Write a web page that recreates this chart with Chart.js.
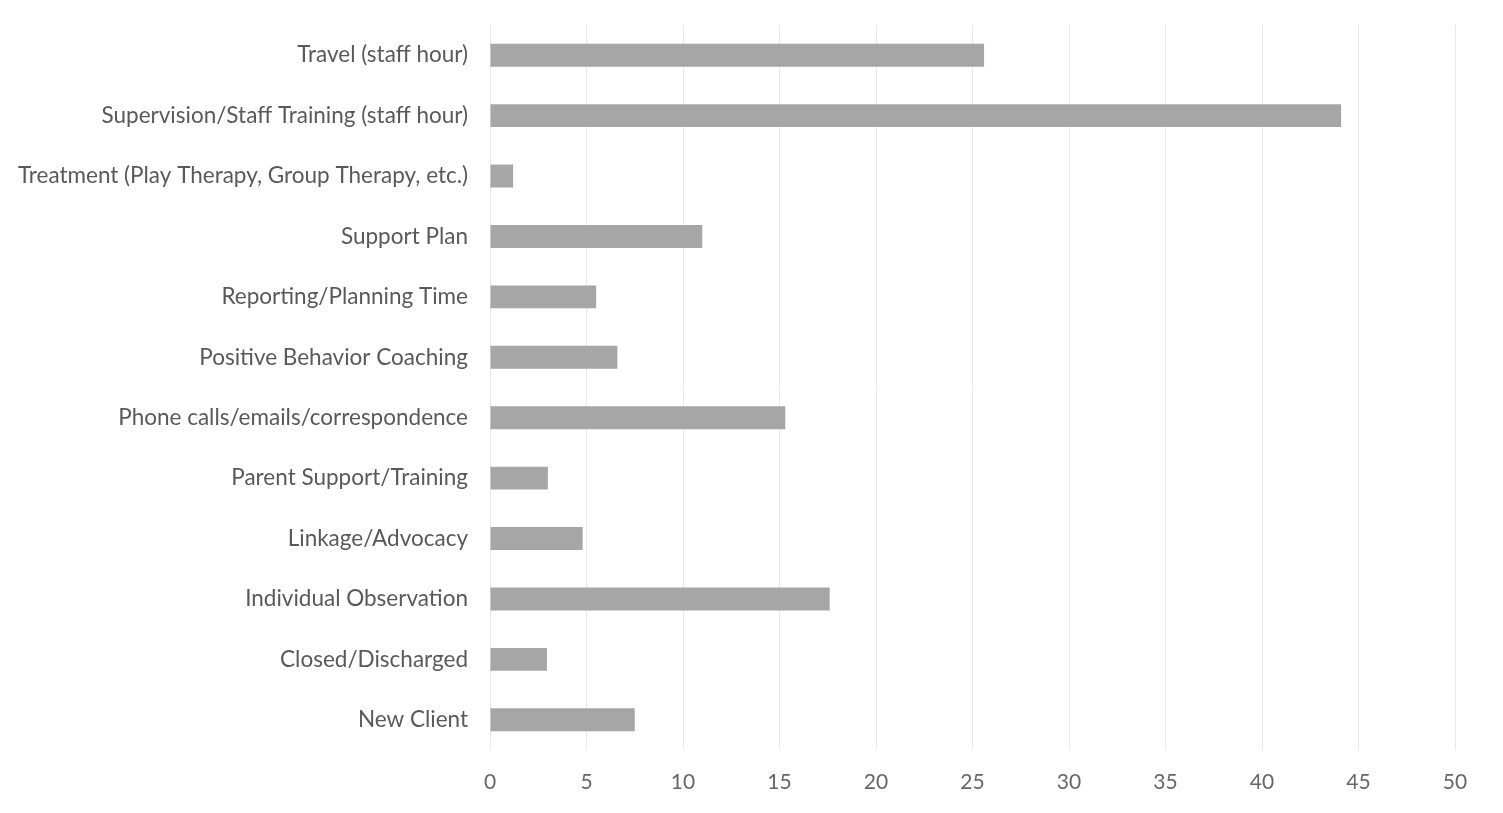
<!DOCTYPE html>
<html>
<head>
<meta charset="utf-8">
<script src="https://cdn.jsdelivr.net/npm/chart.js@4/dist/chart.umd.min.js"></script>
<style>
html,body{margin:0;padding:0;background:#fff;}
#wrap{width:1503px;height:813px;position:relative;}
</style>
</head>
<body>
<div id="wrap"><canvas id="c"></canvas></div>
<script>
const categories = [
  "Travel (staff hour)",
  "Supervision/Staff Training (staff hour)",
  "Treatment (Play Therapy, Group Therapy, etc.)",
  "Support Plan",
  "Reporting/Planning Time",
  "Positive Behavior Coaching",
  "Phone calls/emails/correspondence",
  "Parent Support/Training",
  "Linkage/Advocacy",
  "Individual Observation",
  "Closed/Discharged",
  "New Client"
];
const values = [25.6, 44.1, 1.2, 11.0, 5.5, 6.6, 15.3, 3.0, 4.8, 17.6, 2.95, 7.5];
const xMin = 0, xMax = 50, xStep = 5;

const font = {family: "Lato, 'Open Sans', sans-serif", size: 22.5};
new Chart(document.getElementById('c'), {
  type: 'bar',
  data: {
    labels: categories,
    datasets: [{
      data: values,
      backgroundColor: '#a6a6a6',
      borderWidth: 0,
      categoryPercentage: 1.0,
      barPercentage: 0.38
    }]
  },
  options: {
    indexAxis: 'y',
    responsive: true,
    maintainAspectRatio: false,
    animation: false,
    layout: {padding: {top: 25, right: 48, left: 0, bottom: 0}},
    plugins: {legend: {display: false}, tooltip: {enabled: false}},
    scales: {
      x: {
        min: xMin, max: xMax,
        ticks: {stepSize: xStep, color: '#666', font: {family: font.family, size: 21}, padding: 20},
        grid: {color: '#e8e8e8', drawTicks: false},
        border: {display: false},
        afterFit: s => { s.height = 63; s.paddingLeft = 0; s.paddingRight = 0; }
      },
      y: {
        ticks: {color: '#595959', font: font, padding: 22},
        grid: {display: false, drawTicks: false},
        border: {display: false},
        afterFit: s => { s.width = 490; s.paddingTop = 0; s.paddingBottom = 0; }
      }
    }
  }
});
</script>
</body>
</html>
